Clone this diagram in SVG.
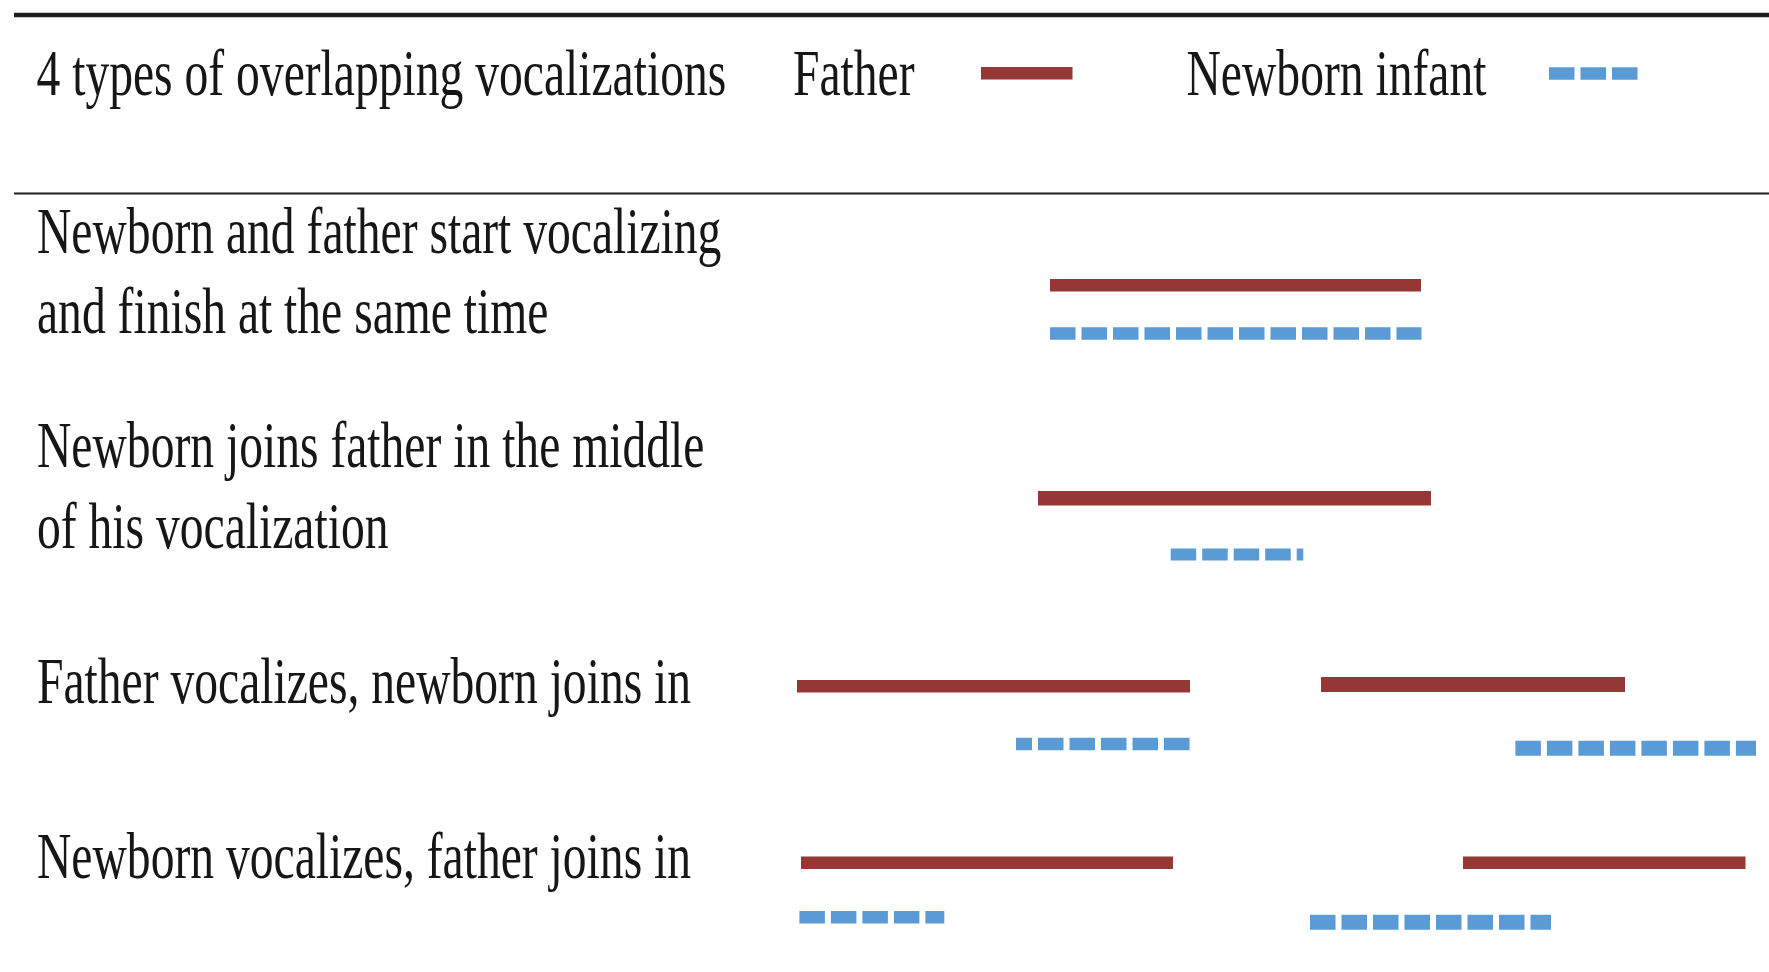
<svg xmlns="http://www.w3.org/2000/svg" width="1769" height="972" viewBox="0 0 1769 972">
  <style>
    .t { font-family: "Liberation Serif", "Times New Roman", serif; font-size: 47.6px; fill: #161616; }
    .rule { stroke: #1e1e1e; }
    .father { fill: #953735; }
    .infant { stroke: #5b9bd5; fill: none; stroke-dasharray: 25.5 6; }
  </style>
  <rect width="1769" height="972" fill="#ffffff"/>

  <g id="rules">
    <line class="rule" x1="14" y1="15" x2="1769" y2="15" stroke-width="4.5"/>
    <line class="rule" x1="14" y1="193.5" x2="1769" y2="193.5" stroke-width="2.2"/>
  </g>

  <g id="header">
    <text class="t" transform="translate(36.5,95) scale(1,1.36)">4 types of overlapping vocalizations</text>
    <text class="t" transform="translate(793,95) scale(1,1.36)">Father</text>
    <rect class="father" x="981" y="67" width="91.5" height="12.5"/>
    <text class="t" transform="translate(1186.5,95) scale(1,1.36)">Newborn infant</text>
    <line class="infant" x1="1549" y1="73.5" x2="1638" y2="73.5" stroke-width="12.5"/>
  </g>

  <g id="row1">
    <text class="t" transform="translate(37,253) scale(1,1.36)">Newborn and father start vocalizing</text>
    <text class="t" transform="translate(37,333) scale(1,1.36)">and finish at the same time</text>
    <rect class="father" x="1050" y="279" width="371" height="12.5"/>
    <line class="infant" x1="1050" y1="333.5" x2="1421.5" y2="333.5" stroke-width="12.5"/>
  </g>

  <g id="row2">
    <text class="t" transform="translate(37,466.5) scale(1,1.36)">Newborn joins father in the middle</text>
    <text class="t" transform="translate(37,548) scale(1,1.36)">of his vocalization</text>
    <rect class="father" x="1038" y="491" width="393" height="14.5"/>
    <line class="infant" x1="1170.7" y1="554.5" x2="1303.3" y2="554.5" stroke-width="12"/>
  </g>

  <g id="row3">
    <text class="t" transform="translate(37,703) scale(1,1.36)">Father vocalizes, newborn joins in</text>
    <rect class="father" x="797" y="680" width="393" height="12.5"/>
    <line class="infant" x1="1016" y1="744" x2="1190" y2="744" stroke-width="12.5" stroke-dashoffset="9.5"/>
    <rect class="father" x="1321" y="677" width="304" height="15"/>
    <line class="infant" x1="1515.4" y1="748.3" x2="1756" y2="748.3" stroke-width="15"/>
  </g>

  <g id="row4">
    <text class="t" transform="translate(37,878) scale(1,1.36)">Newborn vocalizes, father joins in</text>
    <rect class="father" x="801" y="856.5" width="372" height="12.5"/>
    <line class="infant" x1="799.4" y1="917.3" x2="944.3" y2="917.3" stroke-width="12.5"/>
    <rect class="father" x="1463" y="856.5" width="282.5" height="12.5"/>
    <line class="infant" x1="1310" y1="922.3" x2="1551" y2="922.3" stroke-width="15"/>
  </g>
</svg>
